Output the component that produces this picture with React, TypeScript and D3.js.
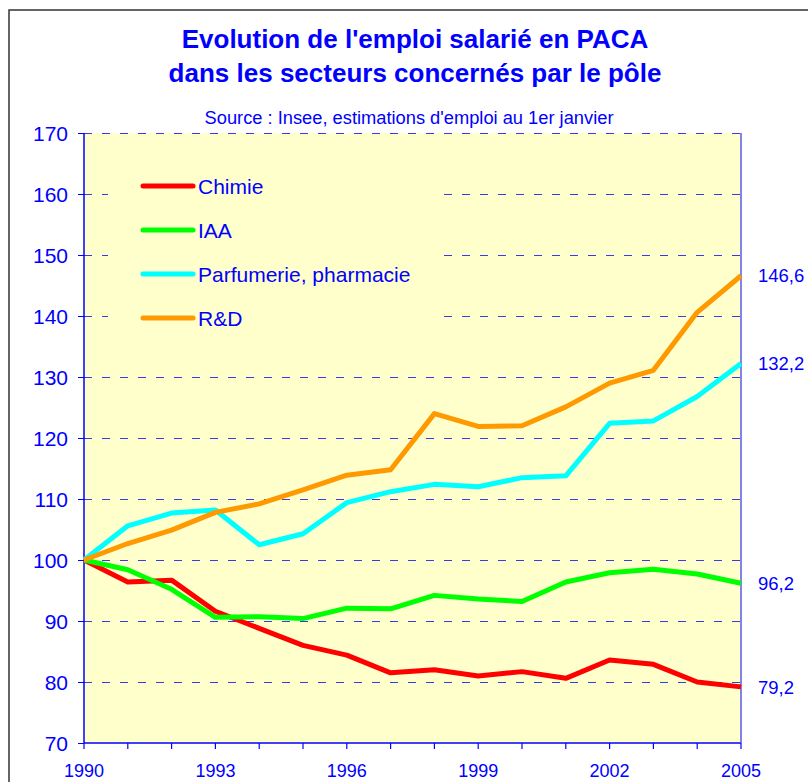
import { useEffect, useRef } from 'react';
import * as d3 from 'd3';

// années (1er janvier)
const years = [1990, 1991, 1992, 1993, 1994, 1995, 1996, 1997, 1998, 1999, 2000, 2001, 2002, 2003, 2004, 2005];
const yearLabels = [1990, 1993, 1996, 1999, 2002, 2005];
const yTicks = [70, 80, 90, 100, 110, 120, 130, 140, 150, 160, 170];

// indices base 100 en 1990
const chimie = [100, 96.4, 96.7, 91.6, 88.8, 86.0, 84.4, 81.5, 82.0, 81.0, 81.7, 80.6, 83.6, 82.9, 80.0, 79.2];
const iaa = [100, 98.4, 95.2, 90.6, 90.7, 90.4, 92.1, 92.0, 94.2, 93.6, 93.2, 96.4, 97.9, 98.5, 97.7, 96.2];
const parfumerie = [100, 105.6, 107.7, 108.2, 102.5, 104.3, 109.4, 111.2, 112.4, 112.0, 113.5, 113.8, 122.4, 122.8, 126.8, 132.2];
const rd = [100, 102.7, 104.9, 107.8, 109.2, 111.5, 113.9, 114.8, 124.0, 121.9, 122.0, 125.1, 129.0, 131.1, 140.6, 146.6];

const seriesNames = ['Chimie', 'IAA', 'Parfumerie, pharmacie', 'R&D'];
const seriesColors = ['#ff0000', '#00ff00', '#00ffff', '#ff9900'];

const FONT = "Arial, 'Liberation Sans', sans-serif";
const BLUE = '#0000ff';

const App = () => {
  const ref = useRef<SVGSVGElement>(null);

  useEffect(() => {
    if (!ref.current) return;
    const svg = d3.select(ref.current);
    svg.selectAll('*').remove();

    const width = 808;
    const height = 782;
    const margin = { top: 133, left: 84, right: 67, bottom: 39 };
    const innerW = width - margin.left - margin.right;
    const innerH = height - margin.top - margin.bottom;

    const x = d3.scaleLinear().domain([1990, 2005]).range([0, innerW]);
    const y = d3.scaleLinear().domain([70, 170]).range([innerH, 0]);

    // cadre extérieur
    svg.append('rect')
      .attr('x', 9).attr('y', 10).attr('width', 820).attr('height', 800)
      .attr('fill', 'white').attr('stroke', '#333').attr('stroke-width', 1.5);

    // titre
    const title = svg.append('text')
      .attr('x', 415).attr('text-anchor', 'middle')
      .attr('fill', BLUE).style('font-family', FONT).style('font-weight', 'bold').style('font-size', '26px');
    title.append('tspan').attr('x', 415).attr('y', 48).text("Evolution de l'emploi salarié en PACA");
    title.append('tspan').attr('x', 415).attr('y', 82).text('dans les secteurs concernés par le pôle');

    svg.append('text')
      .attr('x', 409).attr('y', 124).attr('text-anchor', 'middle')
      .attr('fill', BLUE).style('font-family', FONT).style('font-size', '18.3px')
      .text("Source : Insee, estimations d'emploi au 1er janvier");

    const g = svg.append('g').attr('transform', `translate(${margin.left},${margin.top})`);

    // fond
    g.append('rect').attr('width', innerW).attr('height', innerH).attr('fill', '#ffffcc');

    // grille
    g.selectAll('.grid')
      .data(yTicks.filter(v => v > 70))
      .join('line')
      .attr('x1', 0).attr('x2', innerW)
      .attr('y1', d => Math.round(y(d)) + 0.5).attr('y2', d => Math.round(y(d)) + 0.5)
      .attr('stroke', '#3a3ae6').attr('stroke-width', 1)
      .attr('shape-rendering', 'crispEdges')
      .attr('stroke-dasharray', '8,10');

    // cache de la légende (masque la grille)
    g.append('rect')
      .attr('x', 24).attr('y', 20).attr('width', 333).attr('height', 205)
      .attr('fill', '#ffffcc');

    // axes
    g.append('line').attr('x1', 0).attr('x2', 0).attr('y1', 0).attr('y2', innerH)
      .attr('stroke', BLUE).attr('stroke-width', 1.5);
    g.append('line').attr('x1', 0).attr('x2', innerW).attr('y1', innerH).attr('y2', innerH)
      .attr('stroke', BLUE).attr('stroke-width', 1.5);
    g.append('line').attr('x1', innerW).attr('x2', innerW).attr('y1', 0).attr('y2', innerH)
      .attr('stroke', '#5a5ae6').attr('stroke-width', 1.5);

    // graduations Y
    g.selectAll('.ytick')
      .data(yTicks)
      .join('line')
      .attr('x1', -6).attr('x2', 0)
      .attr('y1', d => Math.round(y(d)) + 0.5).attr('y2', d => Math.round(y(d)) + 0.5)
      .attr('stroke', BLUE).attr('stroke-width', 1)
      .attr('shape-rendering', 'crispEdges');
    g.selectAll('.ylab')
      .data(yTicks)
      .join('text')
      .attr('x', -16).attr('y', d => y(d)).attr('dy', '0.36em')
      .attr('text-anchor', 'end').attr('fill', BLUE)
      .style('font-family', FONT).style('font-size', '21px')
      .text(d => d);

    // graduations X
    g.selectAll('.xtick')
      .data(years)
      .join('line')
      .attr('x1', d => x(d)).attr('x2', d => x(d))
      .attr('y1', innerH).attr('y2', innerH + 6)
      .attr('stroke', BLUE).attr('stroke-width', 1.2);
    g.selectAll('.xlab')
      .data(yearLabels)
      .join('text')
      .attr('x', d => x(d)).attr('y', innerH + 34)
      .attr('text-anchor', 'middle').attr('fill', BLUE)
      .style('font-family', FONT).style('font-size', '18px')
      .text(d => d);

    // courbes
    const allSeries = [chimie, iaa, parfumerie, rd];
    const line = d3.line<number>().x((_, i) => x(years[i])).y(d => y(d));
    allSeries.forEach((vals, k) => {
      g.append('path').datum(vals)
        .attr('fill', 'none').attr('stroke', seriesColors[k])
        .attr('stroke-width', 5).attr('stroke-linejoin', 'round')
        .attr('d', line);
    });

    // valeurs finales
    allSeries.forEach(vals => {
      const last = vals[vals.length - 1];
      g.append('text')
        .attr('x', innerW + 17).attr('y', y(last)).attr('dy', '0.36em')
        .attr('fill', BLUE).style('font-family', FONT).style('font-size', '18.5px')
        .text(String(last.toFixed(1)).replace('.', ','));
    });

    // légende
    seriesNames.forEach((name, k) => {
      const ly = 53 + k * 44;
      g.append('line')
        .attr('x1', 59).attr('x2', 109).attr('y1', ly).attr('y2', ly)
        .attr('stroke', seriesColors[k]).attr('stroke-width', 5).attr('stroke-linecap', 'round');
      g.append('text')
        .attr('x', 114).attr('y', ly).attr('dy', '0.36em')
        .attr('fill', BLUE).style('font-family', FONT).style('font-size', '21px')
        .text(name);
    });
  }, []);

  return (
    <div style={{ position: 'absolute', left: 0, top: 0 }}>
      <svg ref={ref} width={808} height={782} style={{ display: 'block' }} />
    </div>
  );
};

export default App;
